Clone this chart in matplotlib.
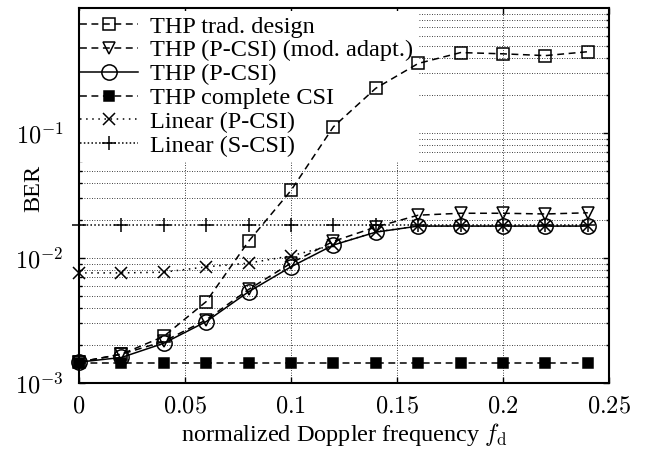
import matplotlib
matplotlib.use('Agg')
import matplotlib.pyplot as plt
from matplotlib.ticker import FixedLocator, FixedFormatter, NullFormatter

# ---------------- data ----------------
fd = [0.0, 0.02, 0.04, 0.06, 0.08, 0.10, 0.12, 0.14, 0.16, 0.18, 0.20, 0.22, 0.24]

thp_trad = [1.47e-3, 1.70e-3, 2.36e-3, 4.48e-3, 1.36e-2, 3.47e-2, 0.112, 0.228, 0.36, 0.44, 0.43, 0.416, 0.447]
thp_mod = [1.47e-3, 1.70e-3, 2.15e-3, 3.20e-3, 5.60e-3, 9.10e-3, 1.36e-2, 1.77e-2, 2.20e-2, 2.28e-2, 2.28e-2, 2.25e-2, 2.30e-2]
thp_pcsi = [1.47e-3, 1.60e-3, 2.08e-3, 3.10e-3, 5.37e-3, 8.50e-3, 1.27e-2, 1.61e-2, 1.80e-2, 1.80e-2, 1.80e-2, 1.80e-2, 1.80e-2]
thp_full = [1.45e-3, 1.45e-3, 1.45e-3, 1.45e-3, 1.45e-3, 1.45e-3, 1.45e-3, 1.45e-3, 1.45e-3, 1.45e-3, 1.45e-3, 1.45e-3, 1.45e-3]
lin_pcsi = [7.6e-3, 7.6e-3, 7.7e-3, 8.5e-3, 9.1e-3, 1.04e-2, 1.27e-2, 1.62e-2, 1.80e-2, 1.80e-2, 1.80e-2, 1.80e-2, 1.80e-2]
lin_scsi = [1.83e-2, 1.83e-2, 1.83e-2, 1.83e-2, 1.83e-2, 1.83e-2, 1.83e-2, 1.83e-2, 1.83e-2, 1.83e-2, 1.83e-2, 1.83e-2, 1.83e-2]

labels = ["THP trad. design", "THP (P-CSI) (mod. adapt.)", "THP (P-CSI)",
          "THP complete CSI", "Linear (P-CSI)", "Linear (S-CSI)"]

xticks = [0, 0.05, 0.1, 0.15, 0.2, 0.25]
xticklabels = ["$0$", "$0.05$", "$0.1$", "$0.15$", "$0.2$", "$0.25$"]
yticks = [1e-3, 1e-2, 1e-1]
yticklabels = [r"$10^{-3}$", r"$10^{-2}$", r"$10^{-1}$"]
yminor = [m * d for d in (1e-3, 1e-2, 1e-1) for m in (2, 3, 4, 5, 6, 7, 8, 9)]

# ---------------- style ----------------
plt.rcParams['font.family'] = ['Liberation Serif', 'DejaVu Serif']
plt.rcParams['mathtext.fontset'] = 'cm'
FS = 17.5

fig = plt.figure(figsize=(6.46, 4.49), dpi=100)
ax = fig.add_axes([79 / 646, 1 - 383 / 449, 530 / 646, 375 / 449])

lw = 1.1
dash = (0, (4.5, 3))
common = dict(color='black', lw=lw, clip_on=False, zorder=3, markeredgewidth=1.1)

ax.plot(fd, thp_trad, linestyle=dash, marker='s', ms=8, mfc='none', label=labels[0], **common)
ax.plot(fd, thp_mod, linestyle=dash, marker='v', ms=8.5, mfc='none', label=labels[1], **common)
ax.plot(fd, thp_pcsi, linestyle='-', marker='o', ms=11, mfc='none', label=labels[2], **common)
ax.plot(fd, thp_full, linestyle=dash, marker='s', ms=7, mfc='black', label=labels[3], **common)
ax.plot(fd, lin_pcsi, linestyle=(0, (1, 3)), marker='x', ms=9, label=labels[4], **common)
ax.plot(fd, lin_scsi, linestyle=(0, (1, 1.5)), marker='+', ms=10, label=labels[5], **common)

ax.set_yscale('log')
ax.set_xlim(0, 0.25)
ax.set_ylim(1e-3, 1.0)

ax.xaxis.set_major_locator(FixedLocator(xticks))
ax.xaxis.set_major_formatter(FixedFormatter(xticklabels))
ax.yaxis.set_major_locator(FixedLocator(yticks))
ax.yaxis.set_major_formatter(FixedFormatter(yticklabels))
ax.yaxis.set_minor_locator(FixedLocator(yminor))
ax.yaxis.set_minor_formatter(NullFormatter())

ax.tick_params(which='both', direction='in', top=True, right=True, width=1.0)
ax.tick_params(axis='x', which='major', length=4, pad=10, labelsize=FS)
ax.tick_params(axis='y', which='major', length=4, pad=11, labelsize=FS)
ax.tick_params(which='minor', length=2)

for s in ax.spines.values():
    s.set_linewidth(1.5)

ax.set_axisbelow(True)
ax.grid(True, which='major', axis='x', color='black', lw=0.6, linestyle=(0, (1, 2)))
ax.grid(True, which='both', axis='y', color='black', lw=0.6, linestyle=(0, (1, 2)))

ax.set_xlabel(r"normalized Doppler frequency $f_\mathrm{d}$", fontsize=FS)
ax.set_ylabel("BER", fontsize=FS)
ax.xaxis.set_label_coords(0.5, -0.10)
ax.yaxis.set_label_coords(-0.066, 0.52)

leg = ax.legend(loc='upper left', bbox_to_anchor=(-0.008, 0.993), fontsize=FS,
                frameon=True, fancybox=False, edgecolor='none', facecolor='white',
                framealpha=1.0, borderaxespad=0, borderpad=0.2, labelspacing=0.075,
                handlelength=2.4, handletextpad=0.5, numpoints=1)
leg.set_zorder(1.5)

fig.savefig('out.png', dpi=100)
